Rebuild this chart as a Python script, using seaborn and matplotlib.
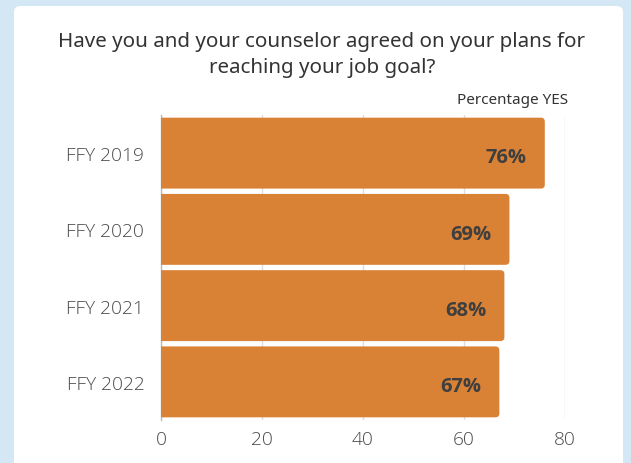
import matplotlib
matplotlib.use("Agg")
import matplotlib.pyplot as plt
from matplotlib.patches import FancyBboxPatch
import seaborn as sns
import pandas as pd

categories = ["FFY 2019", "FFY 2020", "FFY 2021", "FFY 2022"]
values = [76, 69, 68, 67]
x_ticks = [0, 20, 40, 60, 80]
title = "Have you and your counselor agreed on your plans for\nreaching your job goal?"
series_name = "Percentage YES"

BAR = "#D98236"
BG = "#D3E7F5"

sns.set_theme(style="white")
plt.rcParams["font.family"] = ["Open Sans", "DejaVu Sans"]

df = pd.DataFrame({"year": categories, "pct": values})

W, H = 631, 464
fig = plt.figure(figsize=(W / 100, H / 100), dpi=100)
fig.patch.set_facecolor(BG)

# white card behind the chart, running off the bottom edge
card = FancyBboxPatch((14 / W, -20 / H), (623 - 14) / W, (H - 7 + 20) / H,
                      boxstyle="round,pad=0,rounding_size=0.012",
                      transform=fig.transFigure, facecolor="white",
                      edgecolor="none", zorder=-1)
fig.patches.append(card)

ax = fig.add_axes([161 / W, (H - 421) / H, (565 - 161) / W, (421 - 116) / H])
ax.set_zorder(2)
ax.set_facecolor("none")

sns.barplot(data=df, y="year", x="pct", orient="h", color=BAR,
            width=0.93, saturation=1, ax=ax, zorder=3)

# swap plain bars for ones with softly rounded corners
for p in list(ax.patches):
    x0, y0 = p.get_x(), p.get_y()
    w, h = p.get_width(), p.get_height()
    p.remove()
    rb = FancyBboxPatch((x0 - 2, y0), w + 2, h,
                        boxstyle="round,pad=0,rounding_size=0.8",
                        mutation_aspect=0.065,
                        facecolor=BAR, edgecolor="none", zorder=3)
    ax.add_patch(rb)

for i, v in enumerate(values):
    ax.annotate(f"{v}%", xy=(v, i), xytext=(-13, -3), textcoords="offset points",
                ha="right", va="center", fontsize=14.5, fontweight="bold",
                color="#3F3F3F", zorder=5)

ax.set_xlim(0, 80)
ax.set_ylim(len(categories) - 0.5, -0.5)
ax.set_xticks(x_ticks)
ax.set_xticklabels([str(t) for t in x_ticks])
ax.xaxis.grid(True, color="#DDDDDD", linewidth=1, zorder=1)
ax.yaxis.grid(False)
ax.set_axisbelow(True)
for s in ["top", "right", "bottom"]:
    ax.spines[s].set_visible(False)
ax.spines["left"].set_color("#BBBBBB")
ax.spines["left"].set_linewidth(1)
ax.spines["left"].set_zorder(2)
ax.tick_params(axis="both", length=0, labelsize=13.8, labelcolor="#4A4A4A")
ax.tick_params(axis="y", pad=12)
ax.tick_params(axis="x", pad=7)
for lab in ax.get_xticklabels() + ax.get_yticklabels():
    lab.set_fontweight("light")
ax.set_xlabel("")
ax.set_ylabel("")

fig.text(322 / W, 1 - 55 / H, title, ha="center", va="center",
         fontsize=14.8, color="#333333", linespacing=1.35,
         family=["Noto Sans", "DejaVu Sans"])
fig.text(568 / W, 1 - 101 / H, series_name, ha="right", va="center",
         fontsize=11, color="#333333", family=["Noto Sans", "DejaVu Sans"])

fig.savefig("out.png", dpi=100, facecolor=BG)
